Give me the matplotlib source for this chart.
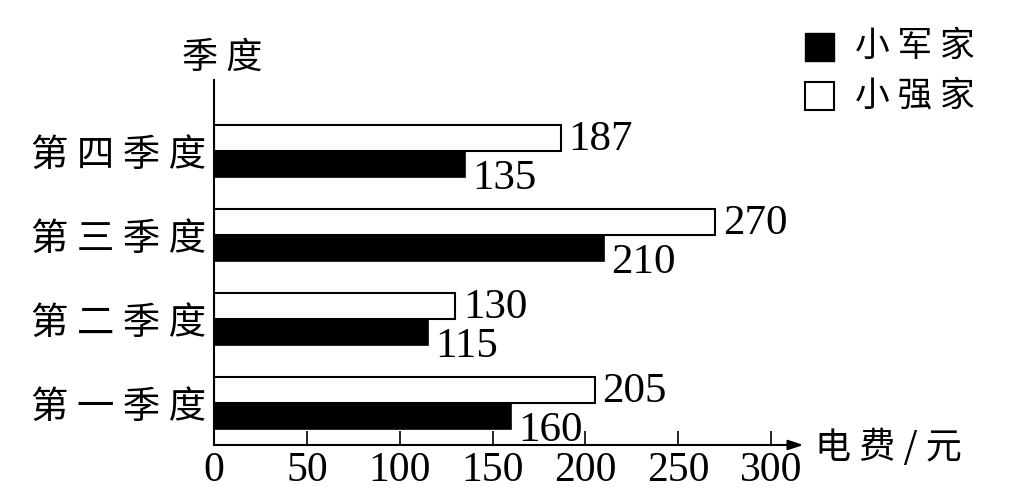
import matplotlib.pyplot as plt
from matplotlib.patches import Rectangle

plt.rcParams['font.family'] = ['Noto Sans CJK SC', 'DejaVu Sans']

quarters = ['第 一 季 度', '第 二 季 度', '第 三 季 度', '第 四 季 度']
xiaojun = [160, 115, 210, 135]
xiaoqiang = [205, 130, 270, 187]
x_ticks = [0, 50, 100, 150, 200, 250, 300]

num_font = 'Liberation Serif'

fig = plt.figure(figsize=(10.16, 5.04), dpi=100)
ax = fig.add_axes([214 / 1016, 1 - 445 / 504, 557 / 1016, (445 - 80) / 504])

h = 0.31
y = list(range(len(quarters)))

# black bars below, white bars above
ax.barh([v - h / 2 for v in y], xiaojun, height=h, color='black', edgecolor='black', linewidth=1.2)
ax.barh([v + h / 2 for v in y], xiaoqiang, height=h, color='white', edgecolor='black', linewidth=1.5)

# value labels
for yi, a, b in zip(y, xiaojun, xiaoqiang):
    ax.text(b + 4, yi + h / 2 - 0.02, str(b), fontsize=31, family=num_font,
            ha='left', va='center')
    ax.text(a + 4, yi - h / 2 - 0.17, str(a), fontsize=31, family=num_font,
            ha='left', va='center')

ax.set_xlim(0, 300)
ax.set_ylim(-0.5, 3.845)
ax.set_xticks(x_ticks)
ax.set_xticklabels([str(t) for t in x_ticks], family=num_font, fontsize=30)
ax.set_yticks(y)
ax.set_yticklabels(quarters, fontsize=27)
ax.tick_params(axis='x', direction='in', length=10, width=1.2, pad=5)
ax.tick_params(axis='y', length=0, pad=6)

for s in ['top', 'right', 'bottom']:
    ax.spines[s].set_visible(False)
ax.spines['left'].set_linewidth(1.5)

# x axis with arrow
ax.annotate('', xy=(1.058, 0), xytext=(0, 0), xycoords='axes fraction',
            arrowprops=dict(arrowstyle='-|>,head_length=0.9,head_width=0.3',
                            color='black', lw=1.5, shrinkA=0, shrinkB=0))

fig.text(222 / 1016, 1 - 58 / 504, '季 度', fontsize=26, ha='center', va='center')
fig.text(888 / 1016, 1 - 447 / 504, '电 费 / 元', fontsize=26, ha='center', va='center')

# legend
fig.patches.append(Rectangle((805 / 1016, 1 - 61 / 504), 29 / 1016, 28 / 504,
                             transform=fig.transFigure, facecolor='black', edgecolor='black'))
fig.patches.append(Rectangle((805 / 1016, 1 - 110 / 504), 29 / 1016, 28 / 504,
                             transform=fig.transFigure, facecolor='white', edgecolor='black', lw=1.5))
fig.text(855 / 1016, 1 - 46 / 504, '小 军 家', fontsize=25, ha='left', va='center')
fig.text(855 / 1016, 1 - 96 / 504, '小 强 家', fontsize=25, ha='left', va='center')

plt.savefig('out.png', dpi=100)
